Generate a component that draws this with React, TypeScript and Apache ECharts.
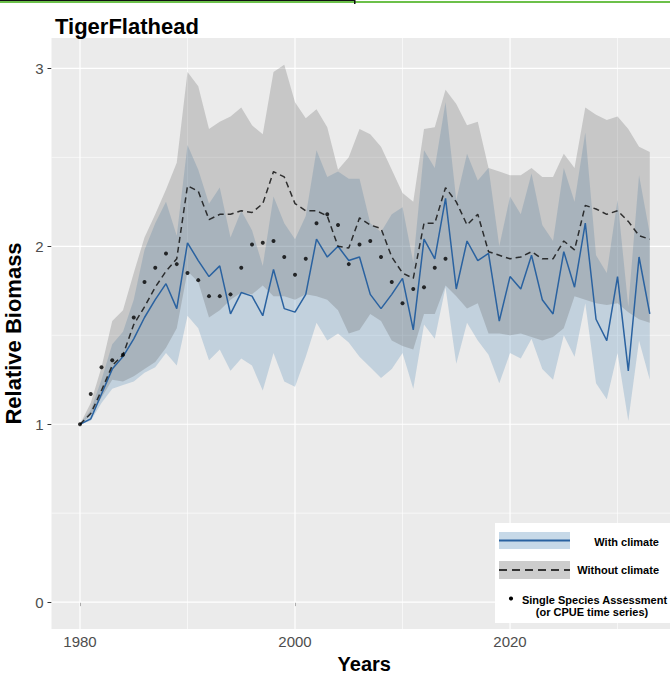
import React, { useEffect, useRef } from "react";
import * as echarts from "echarts";

const years = [
  1980, 1981, 1982, 1983, 1984, 1985, 1986, 1987, 1988, 1989,
  1990, 1991, 1992, 1993, 1994, 1995, 1996, 1997, 1998, 1999,
  2000, 2001, 2002, 2003, 2004, 2005, 2006, 2007, 2008, 2009,
  2010, 2011, 2012, 2013, 2014, 2015, 2016, 2017, 2018, 2019,
  2020, 2021, 2022, 2023, 2024, 2025, 2026, 2027, 2028, 2029,
  2030, 2031, 2032, 2033,
];

const withClimate = [
  1.0, 1.03, 1.17, 1.31, 1.38, 1.48, 1.6, 1.7, 1.79, 1.65,
  2.02, 1.92, 1.83, 1.89, 1.62, 1.74, 1.72, 1.61, 1.87, 1.65,
  1.63, 1.73, 2.04, 1.94, 2.0, 1.92, 1.94, 1.73, 1.65, 1.73,
  1.82, 1.53, 2.04, 1.93, 2.27, 1.76, 2.03, 1.92, 1.96, 1.58,
  1.83, 1.76, 1.95, 1.7, 1.62, 1.97, 1.77, 2.13, 1.59, 1.47,
  1.83, 1.3, 1.94, 1.62,
];

const withClimateLower = [
  1.0, 1.02, 1.12, 1.2, 1.22, 1.24, 1.29, 1.32, 1.4, 1.33,
  1.61, 1.54, 1.36, 1.42, 1.3, 1.37, 1.33, 1.19, 1.4, 1.24,
  1.21, 1.38, 1.57, 1.47, 1.51, 1.46, 1.38, 1.32, 1.26, 1.31,
  1.4, 1.2, 1.56, 1.48, 1.77, 1.34, 1.57, 1.47, 1.39, 1.23,
  1.4, 1.37, 1.48, 1.31, 1.25, 1.5, 1.38, 1.68, 1.23, 1.14,
  1.4, 1.02, 1.47, 1.25,
];

const withClimateUpper = [
  1.0, 1.08, 1.25, 1.45, 1.52, 1.7, 1.98, 2.13, 2.25, 2.06,
  2.57, 2.43, 2.24, 2.33, 2.05, 2.2, 2.09, 1.89, 2.28, 2.13,
  2.04, 2.17, 2.54, 2.39, 2.42, 2.38, 2.38, 2.13, 2.08, 2.18,
  2.22, 1.91, 2.54, 2.44, 2.81, 2.26, 2.52, 2.37, 2.44, 2.0,
  2.28, 2.18, 2.41, 2.12, 2.03, 2.44, 2.25, 2.64, 1.95, 1.85,
  2.26, 1.66, 2.4, 2.07,
];

const withoutClimate = [
  1.0, 1.06, 1.19, 1.33, 1.39, 1.56, 1.66, 1.77, 1.86, 1.93,
  2.34, 2.31, 2.15, 2.18, 2.18, 2.2, 2.19, 2.24, 2.42, 2.39,
  2.24, 2.2, 2.2, 2.17, 2.0, 1.99, 2.16, 2.12, 2.1, 1.94,
  1.85, 1.82, 2.13, 2.13, 2.33, 2.25, 2.12, 2.18, 1.97, 1.95,
  1.93, 1.94, 1.97, 1.93, 1.93, 2.03, 1.98, 2.23, 2.21, 2.18,
  2.2, 2.14, 2.06, 2.04,
];

const withoutClimateLower = [
  1.0, 1.05, 1.15, 1.25, 1.24, 1.27, 1.31, 1.35, 1.43, 1.54,
  1.86, 1.8, 1.6, 1.64, 1.7, 1.74, 1.73, 1.78, 1.72, 1.72,
  1.7, 1.73, 1.72, 1.7, 1.64, 1.51, 1.53, 1.62, 1.58, 1.47,
  1.44, 1.42, 1.62, 1.62, 1.78, 1.72, 1.65, 1.68, 1.51, 1.51,
  1.5, 1.51, 1.49, 1.47, 1.49, 1.54, 1.72, 1.7, 1.68, 1.67,
  1.68, 1.63, 1.59, 1.57,
];

const withoutClimateUpper = [
  1.0, 1.12, 1.32, 1.58, 1.64, 1.85, 2.05, 2.18, 2.32, 2.47,
  2.98, 2.9, 2.66, 2.7, 2.73, 2.78, 2.68, 2.63, 2.98, 3.02,
  2.81, 2.72, 2.77, 2.67, 2.43, 2.5, 2.66, 2.63, 2.56, 2.43,
  2.3, 2.25, 2.66, 2.67, 2.88, 2.8, 2.68, 2.7, 2.44, 2.42,
  2.4, 2.4, 2.44, 2.39, 2.39, 2.52, 2.44, 2.78, 2.74, 2.71,
  2.73, 2.66, 2.56, 2.53,
];

const assessmentYears = [
  1980, 1981, 1982, 1983, 1984, 1985, 1986, 1987, 1988, 1989,
  1990, 1991, 1992, 1993, 1994, 1995, 1996, 1997, 1998, 1999,
  2000, 2001, 2002, 2003, 2004, 2005, 2006, 2007, 2008, 2009,
  2010, 2011, 2012, 2013, 2014,
];

const assessment = [
  1.0, 1.17, 1.32, 1.36, 1.39, 1.6, 1.8, 1.88, 1.96, 1.9,
  1.85, 1.81, 1.72, 1.72, 1.73, 1.88, 2.01, 2.02, 2.03, 1.94,
  1.84, 1.93, 2.13, 2.18, 2.12, 1.9, 2.01, 2.03, 1.94, 1.8,
  1.68, 1.76, 1.77, 1.88, 1.93,
];

const yMajorTicks = [0, 1, 2, 3];
const yMinorTicks = [0.5, 1.5, 2.5];
const xMajorTicks = [1980, 2000, 2020];
const xMinorTicks = [1990, 2010, 2030];

const X_MIN = 1977.35;
const X_MAX = 2034.88;
const Y_MIN = -0.151;
const Y_MAX = 3.171;

const FONT = "Liberation Sans, Arial, Helvetica, sans-serif";
const BLUE_LINE = "#2a62a0";
const BLUE_BAND = "rgba(70,130,180,0.25)";
const GRAY_BAND = "rgba(90,90,90,0.25)";

const pairs = (xs: number[], vs: number[]) => xs.map((x, i) => [x, vs[i]]);

function bandSeries(name: string, lo: number[], hi: number[], color: string, z: number) {
  return {
    type: "custom",
    name,
    silent: true,
    z,
    data: years.map((y, i) => [y, lo[i], hi[i]]),
    encode: { x: 0, y: [1, 2] },
    renderItem: (params: any, api: any) => {
      if (params.dataIndex !== 0) return null;
      const n = years.length;
      const pts: number[][] = [];
      for (let i = 0; i < n; i++) pts.push(api.coord([years[i], hi[i]]));
      for (let i = n - 1; i >= 0; i--) pts.push(api.coord([years[i], lo[i]]));
      return {
        type: "polygon",
        shape: { points: pts },
        style: { fill: color, stroke: "none" },
      };
    },
  };
}

function hGrid(v: number, w: number) {
  return {
    type: "line",
    data: [
      [X_MIN, v],
      [X_MAX, v],
    ],
    symbol: "none",
    silent: true,
    z: 1,
    lineStyle: { color: "#ffffff", width: w },
  };
}

function vGrid(v: number, w: number) {
  return {
    type: "line",
    data: [
      [v, Y_MIN],
      [v, Y_MAX],
    ],
    symbol: "none",
    silent: true,
    z: 1,
    lineStyle: { color: "#ffffff", width: w },
  };
}

export default function App() {
  const ref = useRef<HTMLDivElement>(null);

  useEffect(() => {
    if (!ref.current) return;
    const chart = echarts.init(ref.current, undefined, { renderer: "svg" });

    const legendText = {
      fontFamily: FONT,
      fontSize: 11,
      fontWeight: "bold",
      fill: "#000",
    };

    const option: any = {
      animation: false,
      backgroundColor: "#ffffff",
      title: {
        text: "TigerFlathead",
        left: 50,
        top: 10,
        textStyle: { fontFamily: FONT, fontSize: 22, fontWeight: "bold", color: "#000" },
      },
      grid: {
        left: 51.5,
        right: 0,
        top: 38,
        bottom: 46,
        show: true,
        containLabel: false,
        outerBoundsMode: "none",
        backgroundColor: "#ebebeb",
        borderWidth: 0,
      },
      xAxis: {
        type: "value",
        min: X_MIN,
        max: X_MAX,
        name: "Years",
        nameLocation: "middle",
        nameGap: 16,
        nameTextStyle: {
          fontFamily: FONT,
          fontSize: 20,
          fontWeight: "bold",
          color: "#000",
          padding: [0, 0, 0, 7],
        },
        axisLine: { show: false },
        axisTick: {
          show: true,
          length: 4,
          customValues: xMajorTicks,
          lineStyle: { color: "#333", width: 1 },
        },
        axisLabel: {
          customValues: xMajorTicks,
          formatter: (v: number) => String(Math.round(v)),
          margin: 5,
          fontFamily: FONT,
          fontSize: 15,
          color: "#4d4d4d",
        },
        splitLine: { show: false },
      },
      yAxis: {
        type: "value",
        min: Y_MIN,
        max: Y_MAX,
        name: "Relative Biomass",
        nameLocation: "middle",
        nameRotate: 90,
        nameGap: 19,
        nameTextStyle: {
          fontFamily: FONT,
          fontSize: 22,
          fontWeight: "bold",
          color: "#000",
        },
        axisLine: { show: false },
        axisTick: {
          show: true,
          length: 4,
          customValues: yMajorTicks,
          lineStyle: { color: "#333", width: 1 },
        },
        axisLabel: {
          customValues: yMajorTicks,
          formatter: (v: number) => String(Math.round(v)),
          margin: 8,
          fontFamily: FONT,
          fontSize: 15,
          color: "#4d4d4d",
        },
        splitLine: { show: false },
      },
      series: [
        ...yMinorTicks.map((v) => hGrid(v, 0.6)),
        ...xMinorTicks.map((v) => vGrid(v, 0.6)),
        ...yMajorTicks.map((v) => hGrid(v, 1.2)),
        ...xMajorTicks.map((v) => vGrid(v, 1.2)),
        bandSeries("With climate band", withClimateLower, withClimateUpper, BLUE_BAND, 2),
        bandSeries("Without climate band", withoutClimateLower, withoutClimateUpper, GRAY_BAND, 3),
        {
          type: "line",
          name: "With climate",
          data: pairs(years, withClimate),
          symbol: "none",
          lineStyle: { color: BLUE_LINE, width: 1.5 },
          z: 5,
        },
        {
          type: "line",
          name: "Without climate",
          data: pairs(years, withoutClimate),
          symbol: "none",
          lineStyle: { color: "rgba(20,20,20,0.85)", width: 1.5, type: [6, 4] },
          z: 5,
        },
        {
          type: "scatter",
          name: "Single Species Assessment",
          data: pairs(assessmentYears, assessment),
          symbol: "circle",
          symbolSize: 4,
          itemStyle: { color: "#000" },
          z: 6,
        },
      ],
      graphic: [
        { type: "rect", z: 100, shape: { x: 0, y: 0, width: 355, height: 1 }, style: { fill: "#111" } },
        { type: "rect", z: 100, shape: { x: 0, y: 1, width: 670, height: 2 }, style: { fill: "#6cc04a" } },
        { type: "rect", z: 100, shape: { x: 354, y: 0, width: 1.5, height: 4 }, style: { fill: "#111" } },
        { type: "rect", z: 100, shape: { x: 495, y: 523, width: 180, height: 100 }, style: { fill: "#ffffff" } },
        { type: "rect", z: 101, shape: { x: 499, y: 532, width: 71, height: 17 }, style: { fill: "rgba(70,130,180,0.3)" } },
        { type: "line", z: 102, shape: { x1: 499, y1: 540.5, x2: 570, y2: 540.5 }, style: { stroke: BLUE_LINE, lineWidth: 2 } },
        { type: "rect", z: 101, shape: { x: 499, y: 561, width: 71, height: 18 }, style: { fill: "rgba(90,90,90,0.3)" } },
        {
          type: "line",
          z: 102,
          shape: { x1: 499, y1: 570, x2: 570, y2: 570 },
          style: { stroke: "#333", lineWidth: 1.8, lineDash: [8, 5] },
        },
        { type: "circle", z: 102, shape: { cx: 511, cy: 598.5, r: 2.1 }, style: { fill: "#000" } },
        {
          type: "text",
          z: 102,
          x: 659,
          y: 542,
          style: { ...legendText, text: "With climate", textAlign: "right", textVerticalAlign: "middle" },
        },
        {
          type: "text",
          z: 102,
          x: 659,
          y: 570,
          style: { ...legendText, text: "Without climate", textAlign: "right", textVerticalAlign: "middle" },
        },
        {
          type: "text",
          z: 102,
          x: 594.5,
          y: 599.5,
          style: { ...legendText, text: "Single Species Assessment", textAlign: "center", textVerticalAlign: "middle" },
        },
        {
          type: "text",
          z: 102,
          x: 592,
          y: 611.5,
          style: { ...legendText, text: "(or CPUE time series)", textAlign: "center", textVerticalAlign: "middle" },
        },
      ],
    };

    chart.setOption(option);
    return () => chart.dispose();
  }, []);

  return (
    <div
      ref={ref}
      style={{ position: "absolute", left: 0, top: 0, width: 670, height: 675 }}
    />
  );
}
